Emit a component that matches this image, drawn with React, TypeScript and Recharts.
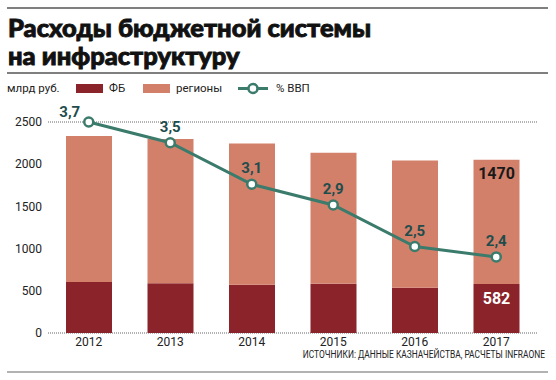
import { ComposedChart, Bar, Line, XAxis, YAxis, CartesianGrid, LabelList } from 'recharts';

const years = ['2012', '2013', '2014', '2015', '2016', '2017'];
const fbValues = [603, 588, 571, 583, 536, 582];
const regionValues = [1730, 1710, 1675, 1552, 1508, 1470];
const gdpShare = [3.7, 3.5, 3.1, 2.9, 2.5, 2.4];
const yTicks = [0, 500, 1000, 1500, 2000, 2500];

const data = years.map((year, i) => ({
  year,
  fb: fbValues[i],
  regions: regionValues[i],
  gdp: gdpShare[i],
}));

const FB_COLOR = '#8b232a';
const REG_COLOR = '#d3806b';
const LINE_COLOR = '#3b7b6c';
const LABEL_TEAL = '#1e4d4c';
const numFont = 'Roboto, "DejaVu Sans", sans-serif';

const lastIdx = years.length - 1;

const GdpLabel = (props: any) => {
  const { x, y, value, index } = props;
  const first = index === 0;
  return (
    <text
      x={first ? x - 19 : x}
      y={first ? y - 5 : y - 11}
      textAnchor='middle'
      fill={LABEL_TEAL}
      fontFamily={numFont}
      fontWeight={700}
      fontSize={15}
    >
      {String(value).replace('.', ',')}
    </text>
  );
};

const lastBarLabel = (color: string, dy: number) => (props: any) => {
  const { x, y, width, value, index } = props;
  if (index !== lastIdx) return null;
  return (
    <text
      x={x + width / 2}
      y={y + dy}
      textAnchor='middle'
      fill={color}
      fontFamily={numFont}
      fontWeight={700}
      fontSize={16}
    >
      {value}
    </text>
  );
};

export default function App() {
  return (
    <div
      style={{
        position: 'absolute',
        left: 0,
        top: 0,
        width: 556,
        height: 380,
        background: '#fff',
      }}
    >
      <ComposedChart
        width={556}
        height={380}
        data={data}
        margin={{ top: 122, right: 19, bottom: 27, left: 8 }}
        style={{ position: 'absolute', left: 0, top: 0 }}
      >
        <CartesianGrid
          vertical={false}
          stroke='#666'
          strokeDasharray='1 1'
          strokeWidth={1}
        />
        <XAxis
          dataKey='year'
          axisLine={false}
          tickLine={false}
          tickSize={0}
          tickMargin={4}
          height={20}
          tick={{ fill: '#222', fontSize: 12, fontFamily: numFont }}
        />
        <YAxis
          yAxisId='left'
          width={40}
          domain={[0, 2500]}
          ticks={yTicks}
          axisLine={false}
          tickLine={false}
          tickSize={4}
          tickMargin={2}
          tick={{ fill: '#222', fontSize: 12, fontFamily: numFont }}
        />
        <YAxis yAxisId='right' orientation='right' hide domain={[1.667, 3.694]} />
        <Bar
          yAxisId='left'
          dataKey='fb'
          stackId='a'
          fill={FB_COLOR}
          barSize={46}
          isAnimationActive={false}
        >
          <LabelList dataKey='fb' content={lastBarLabel('#fff', 20)} />
        </Bar>
        <Bar
          yAxisId='left'
          dataKey='regions'
          stackId='a'
          fill={REG_COLOR}
          barSize={46}
          isAnimationActive={false}
        >
          <LabelList dataKey='regions' content={lastBarLabel('#1a1a1a', 19)} />
        </Bar>
        <Line
          yAxisId='right'
          dataKey='gdp'
          stroke={LINE_COLOR}
          strokeWidth={3}
          dot={{ r: 4.5, fill: '#fff', stroke: LINE_COLOR, strokeWidth: 2.5 }}
          isAnimationActive={false}
        >
          <LabelList dataKey='gdp' content={GdpLabel} />
        </Line>
      </ComposedChart>

      <div
        style={{
          position: 'absolute',
          left: 8,
          top: 13,
          fontFamily: 'Lato, "Open Sans", sans-serif',
          fontWeight: 900,
          fontSize: 25.5,
          lineHeight: '28px',
          color: '#111',
          WebkitTextStroke: '0.9px #111',
          whiteSpace: 'nowrap',
        }}
      >
        Расходы бюджетной системы
        <br />
        на инфраструктуру
      </div>

      <svg
        width={556}
        height={380}
        style={{ position: 'absolute', left: 0, top: 0, pointerEvents: 'none' }}
      >
        <line x1={7} x2={548} y1={8} y2={8} stroke='#555' strokeWidth={1.5} />
        <line x1={7} x2={548} y1={73} y2={73} stroke='#555' strokeWidth={1.5} />

        <g fontFamily={numFont} fontSize={11.5} fill='#222'>
          <text x={7} y={92}>млрд руб.</text>
          <rect x={76} y={84} width={27} height={9} fill={FB_COLOR} />
          <text x={109} y={92}>ФБ</text>
          <rect x={143} y={84} width={27} height={9} fill={REG_COLOR} />
          <text x={176} y={92}>регионы</text>
          <line x1={238} x2={268} y1={88.5} y2={88.5} stroke={LINE_COLOR} strokeWidth={3} />
          <circle cx={253} cy={88.5} r={4.5} fill='#fff' stroke={LINE_COLOR} strokeWidth={2.5} />
          <text x={276} y={92}>% ВВП</text>
        </g>

        <g transform='translate(545,358) scale(0.8,1)'>
          <text
            x={0}
            y={0}
            textAnchor='end'
            fontFamily='"Liberation Sans Narrow", Roboto, sans-serif'
            fontSize={10.5}
            fill='#222'
          >
            ИСТОЧНИКИ: ДАННЫЕ КАЗНАЧЕЙСТВА, РАСЧЕТЫ INFRAONE
          </text>
        </g>
        <line x1={7} x2={548} y1={372} y2={372} stroke='#999' strokeWidth={1.5} />
      </svg>
    </div>
  );
}
